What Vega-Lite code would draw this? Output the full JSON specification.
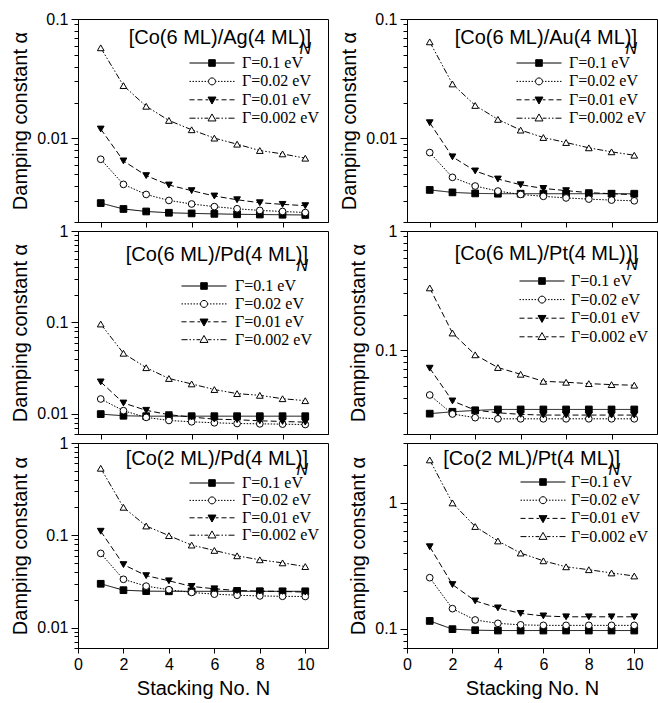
{
  "$schema": "https://vega.github.io/schema/vega-lite/v6.json",
  "padding": {"left": 10, "top": 10, "right": 0, "bottom": 5},
  "datasets": {
    "d": [
      {"p":"Ag","s":"0.1","N":1,"a":0.00288},{"p":"Ag","s":"0.1","N":2,"a":0.00257},{"p":"Ag","s":"0.1","N":3,"a":0.00245},{"p":"Ag","s":"0.1","N":4,"a":0.00239},{"p":"Ag","s":"0.1","N":5,"a":0.00236},{"p":"Ag","s":"0.1","N":6,"a":0.00234},{"p":"Ag","s":"0.1","N":7,"a":0.00232},{"p":"Ag","s":"0.1","N":8,"a":0.00231},{"p":"Ag","s":"0.1","N":9,"a":0.0023},{"p":"Ag","s":"0.1","N":10,"a":0.00229},
      {"p":"Ag","s":"0.02","N":1,"a":0.0067},{"p":"Ag","s":"0.02","N":2,"a":0.00413},{"p":"Ag","s":"0.02","N":3,"a":0.0034},{"p":"Ag","s":"0.02","N":4,"a":0.00303},{"p":"Ag","s":"0.02","N":5,"a":0.00283},{"p":"Ag","s":"0.02","N":6,"a":0.00269},{"p":"Ag","s":"0.02","N":7,"a":0.00258},{"p":"Ag","s":"0.02","N":8,"a":0.0025},{"p":"Ag","s":"0.02","N":9,"a":0.00245},{"p":"Ag","s":"0.02","N":10,"a":0.0024},
      {"p":"Ag","s":"0.01","N":1,"a":0.012},{"p":"Ag","s":"0.01","N":2,"a":0.00649},{"p":"Ag","s":"0.01","N":3,"a":0.00489},{"p":"Ag","s":"0.01","N":4,"a":0.00408},{"p":"Ag","s":"0.01","N":5,"a":0.00366},{"p":"Ag","s":"0.01","N":6,"a":0.0033},{"p":"Ag","s":"0.01","N":7,"a":0.00307},{"p":"Ag","s":"0.01","N":8,"a":0.0029},{"p":"Ag","s":"0.01","N":9,"a":0.00281},{"p":"Ag","s":"0.01","N":10,"a":0.00274},
      {"p":"Ag","s":"0.002","N":1,"a":0.0574},{"p":"Ag","s":"0.002","N":2,"a":0.0277},{"p":"Ag","s":"0.002","N":3,"a":0.0186},{"p":"Ag","s":"0.002","N":4,"a":0.01416},{"p":"Ag","s":"0.002","N":5,"a":0.01183},{"p":"Ag","s":"0.002","N":6,"a":0.01007},{"p":"Ag","s":"0.002","N":7,"a":0.00896},{"p":"Ag","s":"0.002","N":8,"a":0.00793},{"p":"Ag","s":"0.002","N":9,"a":0.00743},{"p":"Ag","s":"0.002","N":10,"a":0.00684},

      {"p":"Au","s":"0.1","N":1,"a":0.00371},{"p":"Au","s":"0.1","N":2,"a":0.00354},{"p":"Au","s":"0.1","N":3,"a":0.00347},{"p":"Au","s":"0.1","N":4,"a":0.00345},{"p":"Au","s":"0.1","N":5,"a":0.00345},{"p":"Au","s":"0.1","N":6,"a":0.00345},{"p":"Au","s":"0.1","N":7,"a":0.00345},{"p":"Au","s":"0.1","N":8,"a":0.00345},{"p":"Au","s":"0.1","N":9,"a":0.00345},{"p":"Au","s":"0.1","N":10,"a":0.00345},
      {"p":"Au","s":"0.02","N":1,"a":0.00762},{"p":"Au","s":"0.02","N":2,"a":0.00473},{"p":"Au","s":"0.02","N":3,"a":0.004},{"p":"Au","s":"0.02","N":4,"a":0.00363},{"p":"Au","s":"0.02","N":5,"a":0.0034},{"p":"Au","s":"0.02","N":6,"a":0.00328},{"p":"Au","s":"0.02","N":7,"a":0.00318},{"p":"Au","s":"0.02","N":8,"a":0.00311},{"p":"Au","s":"0.02","N":9,"a":0.00305},{"p":"Au","s":"0.02","N":10,"a":0.00301},
      {"p":"Au","s":"0.01","N":1,"a":0.01355},{"p":"Au","s":"0.01","N":2,"a":0.00702},{"p":"Au","s":"0.01","N":3,"a":0.00535},{"p":"Au","s":"0.01","N":4,"a":0.00458},{"p":"Au","s":"0.01","N":5,"a":0.0041},{"p":"Au","s":"0.01","N":6,"a":0.00382},{"p":"Au","s":"0.01","N":7,"a":0.00366},{"p":"Au","s":"0.01","N":8,"a":0.00352},{"p":"Au","s":"0.01","N":9,"a":0.00345},{"p":"Au","s":"0.01","N":10,"a":0.00338},
      {"p":"Au","s":"0.002","N":1,"a":0.0644},{"p":"Au","s":"0.002","N":2,"a":0.0286},{"p":"Au","s":"0.002","N":3,"a":0.0189},{"p":"Au","s":"0.002","N":4,"a":0.01445},{"p":"Au","s":"0.002","N":5,"a":0.01175},{"p":"Au","s":"0.002","N":6,"a":0.01019},{"p":"Au","s":"0.002","N":7,"a":0.00925},{"p":"Au","s":"0.002","N":8,"a":0.00835},{"p":"Au","s":"0.002","N":9,"a":0.00773},{"p":"Au","s":"0.002","N":10,"a":0.00724},

      {"p":"Pd6","s":"0.1","N":1,"a":0.00991},{"p":"Pd6","s":"0.1","N":2,"a":0.0095},{"p":"Pd6","s":"0.1","N":3,"a":0.0094},{"p":"Pd6","s":"0.1","N":4,"a":0.0094},{"p":"Pd6","s":"0.1","N":5,"a":0.0094},{"p":"Pd6","s":"0.1","N":6,"a":0.0094},{"p":"Pd6","s":"0.1","N":7,"a":0.0094},{"p":"Pd6","s":"0.1","N":8,"a":0.0094},{"p":"Pd6","s":"0.1","N":9,"a":0.0094},{"p":"Pd6","s":"0.1","N":10,"a":0.0094},
      {"p":"Pd6","s":"0.02","N":1,"a":0.0145},{"p":"Pd6","s":"0.02","N":2,"a":0.0108},{"p":"Pd6","s":"0.02","N":3,"a":0.00912},{"p":"Pd6","s":"0.02","N":4,"a":0.00844},{"p":"Pd6","s":"0.02","N":5,"a":0.00816},{"p":"Pd6","s":"0.02","N":6,"a":0.00796},{"p":"Pd6","s":"0.02","N":7,"a":0.00782},{"p":"Pd6","s":"0.02","N":8,"a":0.00775},{"p":"Pd6","s":"0.02","N":9,"a":0.00769},{"p":"Pd6","s":"0.02","N":10,"a":0.00762},
      {"p":"Pd6","s":"0.01","N":1,"a":0.0223},{"p":"Pd6","s":"0.01","N":2,"a":0.0131},{"p":"Pd6","s":"0.01","N":3,"a":0.0109},{"p":"Pd6","s":"0.01","N":4,"a":0.00976},{"p":"Pd6","s":"0.01","N":5,"a":0.00919},{"p":"Pd6","s":"0.01","N":6,"a":0.00873},{"p":"Pd6","s":"0.01","N":7,"a":0.00859},{"p":"Pd6","s":"0.01","N":8,"a":0.00837},{"p":"Pd6","s":"0.01","N":9,"a":0.00823},{"p":"Pd6","s":"0.01","N":10,"a":0.00809},
      {"p":"Pd6","s":"0.002","N":1,"a":0.0959},{"p":"Pd6","s":"0.002","N":2,"a":0.0459},{"p":"Pd6","s":"0.002","N":3,"a":0.0319},{"p":"Pd6","s":"0.002","N":4,"a":0.0243},{"p":"Pd6","s":"0.002","N":5,"a":0.0212},{"p":"Pd6","s":"0.002","N":6,"a":0.0184},{"p":"Pd6","s":"0.002","N":7,"a":0.0166},{"p":"Pd6","s":"0.002","N":8,"a":0.0159},{"p":"Pd6","s":"0.002","N":9,"a":0.0146},{"p":"Pd6","s":"0.002","N":10,"a":0.0139},

      {"p":"Pt6","s":"0.1","N":1,"a":0.0296},{"p":"Pt6","s":"0.1","N":2,"a":0.0307},{"p":"Pt6","s":"0.1","N":3,"a":0.0315},{"p":"Pt6","s":"0.1","N":4,"a":0.0321},{"p":"Pt6","s":"0.1","N":5,"a":0.0321},{"p":"Pt6","s":"0.1","N":6,"a":0.0321},{"p":"Pt6","s":"0.1","N":7,"a":0.0321},{"p":"Pt6","s":"0.1","N":8,"a":0.0321},{"p":"Pt6","s":"0.1","N":9,"a":0.0321},{"p":"Pt6","s":"0.1","N":10,"a":0.0321},
      {"p":"Pt6","s":"0.02","N":1,"a":0.0424},{"p":"Pt6","s":"0.02","N":2,"a":0.0294},{"p":"Pt6","s":"0.02","N":3,"a":0.0274},{"p":"Pt6","s":"0.02","N":4,"a":0.0268},{"p":"Pt6","s":"0.02","N":5,"a":0.0268},{"p":"Pt6","s":"0.02","N":6,"a":0.0268},{"p":"Pt6","s":"0.02","N":7,"a":0.0268},{"p":"Pt6","s":"0.02","N":8,"a":0.0268},{"p":"Pt6","s":"0.02","N":9,"a":0.0268},{"p":"Pt6","s":"0.02","N":10,"a":0.0268},
      {"p":"Pt6","s":"0.01","N":1,"a":0.0711},{"p":"Pt6","s":"0.01","N":2,"a":0.0378},{"p":"Pt6","s":"0.01","N":3,"a":0.0317},{"p":"Pt6","s":"0.01","N":4,"a":0.0301},{"p":"Pt6","s":"0.01","N":5,"a":0.0292},{"p":"Pt6","s":"0.01","N":6,"a":0.0288},{"p":"Pt6","s":"0.01","N":7,"a":0.0288},{"p":"Pt6","s":"0.01","N":8,"a":0.0288},{"p":"Pt6","s":"0.01","N":9,"a":0.0288},{"p":"Pt6","s":"0.01","N":10,"a":0.0288},
      {"p":"Pt6","s":"0.002","N":1,"a":0.334},{"p":"Pt6","s":"0.002","N":2,"a":0.14},{"p":"Pt6","s":"0.002","N":3,"a":0.092},{"p":"Pt6","s":"0.002","N":4,"a":0.072},{"p":"Pt6","s":"0.002","N":5,"a":0.0632},{"p":"Pt6","s":"0.002","N":6,"a":0.0552},{"p":"Pt6","s":"0.002","N":7,"a":0.0542},{"p":"Pt6","s":"0.002","N":8,"a":0.0528},{"p":"Pt6","s":"0.002","N":9,"a":0.0518},{"p":"Pt6","s":"0.002","N":10,"a":0.0512},

      {"p":"Pd2","s":"0.1","N":1,"a":0.0298},{"p":"Pd2","s":"0.1","N":2,"a":0.0254},{"p":"Pd2","s":"0.1","N":3,"a":0.0248},{"p":"Pd2","s":"0.1","N":4,"a":0.0247},{"p":"Pd2","s":"0.1","N":5,"a":0.0247},{"p":"Pd2","s":"0.1","N":6,"a":0.0247},{"p":"Pd2","s":"0.1","N":7,"a":0.0247},{"p":"Pd2","s":"0.1","N":8,"a":0.0247},{"p":"Pd2","s":"0.1","N":9,"a":0.0247},{"p":"Pd2","s":"0.1","N":10,"a":0.0247},
      {"p":"Pd2","s":"0.02","N":1,"a":0.0636},{"p":"Pd2","s":"0.02","N":2,"a":0.0333},{"p":"Pd2","s":"0.02","N":3,"a":0.0281},{"p":"Pd2","s":"0.02","N":4,"a":0.0257},{"p":"Pd2","s":"0.02","N":5,"a":0.024},{"p":"Pd2","s":"0.02","N":6,"a":0.023},{"p":"Pd2","s":"0.02","N":7,"a":0.0224},{"p":"Pd2","s":"0.02","N":8,"a":0.022},{"p":"Pd2","s":"0.02","N":9,"a":0.0218},{"p":"Pd2","s":"0.02","N":10,"a":0.0217},
      {"p":"Pd2","s":"0.01","N":1,"a":0.1106},{"p":"Pd2","s":"0.01","N":2,"a":0.0481},{"p":"Pd2","s":"0.01","N":3,"a":0.0365},{"p":"Pd2","s":"0.01","N":4,"a":0.0321},{"p":"Pd2","s":"0.01","N":5,"a":0.0279},{"p":"Pd2","s":"0.01","N":6,"a":0.0263},{"p":"Pd2","s":"0.01","N":7,"a":0.0252},{"p":"Pd2","s":"0.01","N":8,"a":0.0248},{"p":"Pd2","s":"0.01","N":9,"a":0.0246},{"p":"Pd2","s":"0.01","N":10,"a":0.0242},
      {"p":"Pd2","s":"0.002","N":1,"a":0.532},{"p":"Pd2","s":"0.002","N":2,"a":0.201},{"p":"Pd2","s":"0.002","N":3,"a":0.126},{"p":"Pd2","s":"0.002","N":4,"a":0.0991},{"p":"Pd2","s":"0.002","N":5,"a":0.0783},{"p":"Pd2","s":"0.002","N":6,"a":0.0685},{"p":"Pd2","s":"0.002","N":7,"a":0.0599},{"p":"Pd2","s":"0.002","N":8,"a":0.0542},{"p":"Pd2","s":"0.002","N":9,"a":0.0502},{"p":"Pd2","s":"0.002","N":10,"a":0.0458},

      {"p":"Pt2","s":"0.1","N":1,"a":0.115},{"p":"Pt2","s":"0.1","N":2,"a":0.0989},{"p":"Pt2","s":"0.1","N":3,"a":0.097},{"p":"Pt2","s":"0.1","N":4,"a":0.0964},{"p":"Pt2","s":"0.1","N":5,"a":0.0964},{"p":"Pt2","s":"0.1","N":6,"a":0.0964},{"p":"Pt2","s":"0.1","N":7,"a":0.0964},{"p":"Pt2","s":"0.1","N":8,"a":0.0964},{"p":"Pt2","s":"0.1","N":9,"a":0.0964},{"p":"Pt2","s":"0.1","N":10,"a":0.0964},
      {"p":"Pt2","s":"0.02","N":1,"a":0.254},{"p":"Pt2","s":"0.02","N":2,"a":0.144},{"p":"Pt2","s":"0.02","N":3,"a":0.117},{"p":"Pt2","s":"0.02","N":4,"a":0.11},{"p":"Pt2","s":"0.02","N":5,"a":0.107},{"p":"Pt2","s":"0.02","N":6,"a":0.106},{"p":"Pt2","s":"0.02","N":7,"a":0.106},{"p":"Pt2","s":"0.02","N":8,"a":0.106},{"p":"Pt2","s":"0.02","N":9,"a":0.106},{"p":"Pt2","s":"0.02","N":10,"a":0.106},
      {"p":"Pt2","s":"0.01","N":1,"a":0.448},{"p":"Pt2","s":"0.01","N":2,"a":0.224},{"p":"Pt2","s":"0.01","N":3,"a":0.166},{"p":"Pt2","s":"0.01","N":4,"a":0.146},{"p":"Pt2","s":"0.01","N":5,"a":0.132},{"p":"Pt2","s":"0.01","N":6,"a":0.126},{"p":"Pt2","s":"0.01","N":7,"a":0.124},{"p":"Pt2","s":"0.01","N":8,"a":0.124},{"p":"Pt2","s":"0.01","N":9,"a":0.124},{"p":"Pt2","s":"0.01","N":10,"a":0.124},
      {"p":"Pt2","s":"0.002","N":1,"a":2.2},{"p":"Pt2","s":"0.002","N":2,"a":1.0},{"p":"Pt2","s":"0.002","N":3,"a":0.649},{"p":"Pt2","s":"0.002","N":4,"a":0.498},{"p":"Pt2","s":"0.002","N":5,"a":0.399},{"p":"Pt2","s":"0.002","N":6,"a":0.346},{"p":"Pt2","s":"0.002","N":7,"a":0.31},{"p":"Pt2","s":"0.002","N":8,"a":0.294},{"p":"Pt2","s":"0.002","N":9,"a":0.277},{"p":"Pt2","s":"0.002","N":10,"a":0.262}
    ]
  },
  "data": {"name": "d"},
  "columns": 2,
  "spacing": {"row": 9, "column": 79},
  "bounds": "flush",
  "resolve": {
    "scale": {"strokeDash": "independent", "fill": "independent", "shape": "independent", "strokeWidth": "independent", "color": "independent", "stroke": "independent"},
    "legend": {"strokeDash": "independent", "fill": "independent", "shape": "independent", "strokeWidth": "independent", "color": "independent", "stroke": "independent"}
  },
  "concat": [
    {
      "width": 250, "height": 203,
      "title": {"text": "[Co(6 ML)/Ag(4 ML)]\u00a0\u00a0\u2009", "subtitle": "N", "offset": -46, "dx": -17},
      "transform": [{"filter": "datum.p == 'Ag'"}],
      "resolve": {"scale": {"shape": "independent", "fill": "independent", "stroke": "independent"}, "legend": {"shape": "independent", "fill": "independent", "stroke": "independent"}},
      "layer": [
        {"mark": {"type": "line", "color": "black", "strokeWidth": 1},
         "encoding": {
           "x": {"field": "N", "type": "quantitative", "scale": {"domain": [0, 11], "nice": false},
                 "axis": {"values": [1,2,3,4,5,6,7,8,9,10], "labels": false, "title": null, "tickSize": 5}},
           "y": {"field": "a", "type": "quantitative", "scale": {"type": "log", "domain": [0.002, 0.1], "nice": false},
                 "axis": {"title": "Damping constant \u03b1", "values": [0.002,0.003,0.004,0.005,0.006,0.007,0.008,0.009,0.01,0.02,0.03,0.04,0.05,0.06,0.07,0.08,0.09,0.1],
                          "labelExpr": "datum.value == 1 ? '1' : datum.value == 0.1 ? '0.1' : datum.value == 0.01 ? '0.01' : ''",
                          "tickSize": {"condition": {"test": "datum.value == 1 || datum.value == 0.1 || datum.value == 0.01", "value": 7}, "value": 4}}},
           "strokeDash": {"field": "s", "type": "nominal", "scale": {"range": [[6,2,1.5,2,1.5,2],[6,3],[1.5,1.5],[1,0]]}, "legend": null}
         }},
        {"mark": {"type": "point", "filled": true, "stroke": "black", "strokeWidth": 1, "size": 45, "opacity": 1},
         "encoding": {
           "x": {"field": "N", "type": "quantitative"},
           "y": {"field": "a", "type": "quantitative"},
           "shape": {"field": "s", "type": "nominal", "scale": {"range": ["triangle-up","triangle-down","circle","square"]}, "legend": null},
           "color": {"field": "s", "type": "nominal", "scale": {"range": ["white","black","white","black"]}, "legend": null}
         }},
        {"mark": {"type": "point", "filled": true, "strokeWidth": 1, "opacity": 0},
         "encoding": {
           "x": {"field": "N", "type": "quantitative"},
           "y": {"field": "a", "type": "quantitative"},
           "fill": {"field": "s", "type": "nominal", "scale": {"domain": ["0.1","0.02","0.01","0.002"], "range": ["black","white","black","white"]},
                    "legend": {"orient": "none", "legendX": 126, "legendY": 36, "title": null, "padding": 0, "symbolSize": 100, "labelOffset": 22, "rowPadding": 2.4, "labelExpr": "'\u0393=' + datum.label + ' eV'"}},
           "stroke": {"field": "s", "type": "nominal", "scale": {"domain": ["0.1","0.02","0.01","0.002"], "range": ["black","black","black","black"]},
                    "legend": {"orient": "none", "legendX": 126, "legendY": 36, "title": null, "padding": 0, "symbolSize": 100, "labelOffset": 22, "rowPadding": 2.4, "labelExpr": "'\u0393=' + datum.label + ' eV'"}},
           "shape": {"field": "s", "type": "nominal", "scale": {"domain": ["0.1","0.02","0.01","0.002"],
                      "range": ["M-4.5,0H-0.75M0.75,0H4.5M-0.66,-0.66H0.66V0.66H-0.66Z",
                                "M-4.5,0H-4.2M-3.9,0H-3.6M-3.3,0H-3M-2.7,0H-2.4M-2.1,0H-1.8M-1.5,0H-1.2M-0.9,0H-0.75M0.75,0H0.9M1.2,0H1.5M1.8,0H2.1M2.4,0H2.7M3,0H3.3M3.6,0H3.9M4.2,0H4.5M-0.7,0A0.7,0.7,0,1,0,0.7,0A0.7,0.7,0,1,0,-0.7,0Z",
                                "M-4.5,0H-3.5M-2.9,0H-1.9M-1.3,0H-0.75M0.75,0H1.3M1.9,0H2.9M3.5,0H4.5M-0.8,-0.55H0.8L0,0.85Z",
                                "M-4.5,0H-3.3M-2.9,0H-2.6M-2.2,0H-1.9M-1.5,0H-0.75M0.75,0H1.5M1.9,0H2.2M2.6,0H2.9M3.3,0H4.5M-0.8,0.55H0.8L0,-0.85Z"]},
                    "legend": {"orient": "none", "legendX": 126, "legendY": 36, "title": null, "padding": 0, "symbolSize": 100, "labelOffset": 22, "rowPadding": 2.4, "labelExpr": "'\u0393=' + datum.label + ' eV'"}}
         }}
      ]
    },
    {
      "width": 250, "height": 203,
      "title": {"text": "[Co(6 ML)/Au(4 ML)]\u00a0\u00a0\u2009", "subtitle": "N", "offset": -46, "dx": -20},
      "transform": [{"filter": "datum.p == 'Au'"}],
      "resolve": {"scale": {"shape": "independent", "fill": "independent", "stroke": "independent"}, "legend": {"shape": "independent", "fill": "independent", "stroke": "independent"}},
      "layer": [
        {"mark": {"type": "line", "color": "black", "strokeWidth": 1},
         "encoding": {
           "x": {"field": "N", "type": "quantitative", "scale": {"domain": [0, 11], "nice": false},
                 "axis": {"values": [1,2,3,4,5,6,7,8,9,10], "labels": false, "title": null, "tickSize": 5}},
           "y": {"field": "a", "type": "quantitative", "scale": {"type": "log", "domain": [0.002, 0.1], "nice": false},
                 "axis": {"title": "Damping constant \u03b1", "values": [0.002,0.003,0.004,0.005,0.006,0.007,0.008,0.009,0.01,0.02,0.03,0.04,0.05,0.06,0.07,0.08,0.09,0.1],
                          "labelExpr": "datum.value == 1 ? '1' : datum.value == 0.1 ? '0.1' : datum.value == 0.01 ? '0.01' : ''",
                          "tickSize": {"condition": {"test": "datum.value == 1 || datum.value == 0.1 || datum.value == 0.01", "value": 7}, "value": 4}}},
           "strokeDash": {"field": "s", "type": "nominal", "scale": {"range": [[6,2,1.5,2,1.5,2],[6,3],[1.5,1.5],[1,0]]}, "legend": null}
         }},
        {"mark": {"type": "point", "filled": true, "stroke": "black", "strokeWidth": 1, "size": 45, "opacity": 1},
         "encoding": {
           "x": {"field": "N", "type": "quantitative"},
           "y": {"field": "a", "type": "quantitative"},
           "shape": {"field": "s", "type": "nominal", "scale": {"range": ["triangle-up","triangle-down","circle","square"]}, "legend": null},
           "color": {"field": "s", "type": "nominal", "scale": {"range": ["white","black","white","black"]}, "legend": null}
         }},
        {"mark": {"type": "point", "filled": true, "strokeWidth": 1, "opacity": 0},
         "encoding": {
           "x": {"field": "N", "type": "quantitative"},
           "y": {"field": "a", "type": "quantitative"},
           "fill": {"field": "s", "type": "nominal", "scale": {"domain": ["0.1","0.02","0.01","0.002"], "range": ["black","white","black","white"]},
                    "legend": {"orient": "none", "legendX": 124, "legendY": 36, "title": null, "padding": 0, "symbolSize": 100, "labelOffset": 22, "rowPadding": 2.4, "labelExpr": "'\u0393=' + datum.label + ' eV'"}},
           "stroke": {"field": "s", "type": "nominal", "scale": {"domain": ["0.1","0.02","0.01","0.002"], "range": ["black","black","black","black"]},
                    "legend": {"orient": "none", "legendX": 124, "legendY": 36, "title": null, "padding": 0, "symbolSize": 100, "labelOffset": 22, "rowPadding": 2.4, "labelExpr": "'\u0393=' + datum.label + ' eV'"}},
           "shape": {"field": "s", "type": "nominal", "scale": {"domain": ["0.1","0.02","0.01","0.002"],
                      "range": ["M-4.5,0H-0.75M0.75,0H4.5M-0.66,-0.66H0.66V0.66H-0.66Z",
                                "M-4.5,0H-4.2M-3.9,0H-3.6M-3.3,0H-3M-2.7,0H-2.4M-2.1,0H-1.8M-1.5,0H-1.2M-0.9,0H-0.75M0.75,0H0.9M1.2,0H1.5M1.8,0H2.1M2.4,0H2.7M3,0H3.3M3.6,0H3.9M4.2,0H4.5M-0.7,0A0.7,0.7,0,1,0,0.7,0A0.7,0.7,0,1,0,-0.7,0Z",
                                "M-4.5,0H-3.5M-2.9,0H-1.9M-1.3,0H-0.75M0.75,0H1.3M1.9,0H2.9M3.5,0H4.5M-0.8,-0.55H0.8L0,0.85Z",
                                "M-4.5,0H-3.3M-2.9,0H-2.6M-2.2,0H-1.9M-1.5,0H-0.75M0.75,0H1.5M1.9,0H2.2M2.6,0H2.9M3.3,0H4.5M-0.8,0.55H0.8L0,-0.85Z"]},
                    "legend": {"orient": "none", "legendX": 124, "legendY": 36, "title": null, "padding": 0, "symbolSize": 100, "labelOffset": 22, "rowPadding": 2.4, "labelExpr": "'\u0393=' + datum.label + ' eV'"}}
         }}
      ]
    },
    {
      "width": 250, "height": 203,
      "title": {"text": "[Co(6 ML)/Pd(4 ML)]\u00a0\u00a0\u2009", "subtitle": "N", "offset": -51, "dx": -20},
      "transform": [{"filter": "datum.p == 'Pd6'"}],
      "resolve": {"scale": {"shape": "independent", "fill": "independent", "stroke": "independent"}, "legend": {"shape": "independent", "fill": "independent", "stroke": "independent"}},
      "layer": [
        {"mark": {"type": "line", "color": "black", "strokeWidth": 1},
         "encoding": {
           "x": {"field": "N", "type": "quantitative", "scale": {"domain": [0, 11], "nice": false},
                 "axis": {"values": [1,2,3,4,5,6,7,8,9,10], "labels": false, "title": null, "tickSize": 5}},
           "y": {"field": "a", "type": "quantitative", "scale": {"type": "log", "domain": [0.006, 1], "nice": false},
                 "axis": {"title": "Damping constant \u03b1", "values": [0.006,0.007,0.008,0.009,0.01,0.02,0.03,0.04,0.05,0.06,0.07,0.08,0.09,0.1,0.2,0.3,0.4,0.5,0.6,0.7,0.8,0.9,1],
                          "labelExpr": "datum.value == 1 ? '1' : datum.value == 0.1 ? '0.1' : datum.value == 0.01 ? '0.01' : ''",
                          "tickSize": {"condition": {"test": "datum.value == 1 || datum.value == 0.1 || datum.value == 0.01", "value": 7}, "value": 4}}},
           "strokeDash": {"field": "s", "type": "nominal", "scale": {"range": [[6,2,1.5,2,1.5,2],[6,3],[1.5,1.5],[1,0]]}, "legend": null},
           "strokeWidth": {"field": "s", "type": "nominal", "scale": {"range": [1,1,2,1]}, "legend": null}
         }},
        {"mark": {"type": "point", "filled": true, "stroke": "black", "strokeWidth": 1, "size": 45, "opacity": 1},
         "encoding": {
           "x": {"field": "N", "type": "quantitative"},
           "y": {"field": "a", "type": "quantitative"},
           "shape": {"field": "s", "type": "nominal", "scale": {"range": ["triangle-up","triangle-down","circle","square"]}, "legend": null},
           "color": {"field": "s", "type": "nominal", "scale": {"range": ["white","black","white","black"]}, "legend": null}
         }},
        {"mark": {"type": "point", "filled": true, "strokeWidth": 1, "opacity": 0},
         "encoding": {
           "x": {"field": "N", "type": "quantitative"},
           "y": {"field": "a", "type": "quantitative"},
           "fill": {"field": "s", "type": "nominal", "scale": {"domain": ["0.1","0.02","0.01","0.002"], "range": ["black","white","black","white"]},
                    "legend": {"orient": "none", "legendX": 118, "legendY": 47, "title": null, "padding": 0, "symbolSize": 100, "labelOffset": 23, "rowPadding": 1.9, "labelExpr": "'\u0393=' + datum.label + ' eV'"}},
           "stroke": {"field": "s", "type": "nominal", "scale": {"domain": ["0.1","0.02","0.01","0.002"], "range": ["black","black","black","black"]},
                    "legend": {"orient": "none", "legendX": 118, "legendY": 47, "title": null, "padding": 0, "symbolSize": 100, "labelOffset": 23, "rowPadding": 1.9, "labelExpr": "'\u0393=' + datum.label + ' eV'"}},
           "shape": {"field": "s", "type": "nominal", "scale": {"domain": ["0.1","0.02","0.01","0.002"],
                      "range": ["M-4.5,0H-0.75M0.75,0H4.5M-0.66,-0.66H0.66V0.66H-0.66Z",
                                "M-4.5,0H-4.2M-3.9,0H-3.6M-3.3,0H-3M-2.7,0H-2.4M-2.1,0H-1.8M-1.5,0H-1.2M-0.9,0H-0.75M0.75,0H0.9M1.2,0H1.5M1.8,0H2.1M2.4,0H2.7M3,0H3.3M3.6,0H3.9M4.2,0H4.5M-0.7,0A0.7,0.7,0,1,0,0.7,0A0.7,0.7,0,1,0,-0.7,0Z",
                                "M-4.5,0H-3.5M-2.9,0H-1.9M-1.3,0H-0.75M0.75,0H1.3M1.9,0H2.9M3.5,0H4.5M-0.8,-0.55H0.8L0,0.85Z",
                                "M-4.5,0H-3.3M-2.9,0H-2.6M-2.2,0H-1.9M-1.5,0H-0.75M0.75,0H1.5M1.9,0H2.2M2.6,0H2.9M3.3,0H4.5M-0.8,0.55H0.8L0,-0.85Z"]},
                    "legend": {"orient": "none", "legendX": 118, "legendY": 47, "title": null, "padding": 0, "symbolSize": 100, "labelOffset": 23, "rowPadding": 1.9, "labelExpr": "'\u0393=' + datum.label + ' eV'"}}
         }}
      ]
    },
    {
      "width": 250, "height": 203,
      "title": {"text": "[Co(6 ML)/Pt(4 ML))]\u00a0\u00a0\u2009", "subtitle": "N", "offset": -50, "dx": -19},
      "transform": [{"filter": "datum.p == 'Pt6'"}],
      "resolve": {"scale": {"shape": "independent", "fill": "independent", "stroke": "independent"}, "legend": {"shape": "independent", "fill": "independent", "stroke": "independent"}},
      "layer": [
        {"mark": {"type": "line", "color": "black", "strokeWidth": 1},
         "encoding": {
           "x": {"field": "N", "type": "quantitative", "scale": {"domain": [0, 11], "nice": false},
                 "axis": {"values": [1,2,3,4,5,6,7,8,9,10], "labels": false, "title": null, "tickSize": 5}},
           "y": {"field": "a", "type": "quantitative", "scale": {"type": "log", "domain": [0.02, 1], "nice": false},
                 "axis": {"title": "Damping constant \u03b1", "values": [0.02,0.03,0.04,0.05,0.06,0.07,0.08,0.09,0.1,0.2,0.3,0.4,0.5,0.6,0.7,0.8,0.9,1],
                          "labelExpr": "datum.value == 1 ? '1' : datum.value == 0.1 ? '0.1' : datum.value == 0.01 ? '0.01' : ''",
                          "tickSize": {"condition": {"test": "datum.value == 1 || datum.value == 0.1 || datum.value == 0.01", "value": 7}, "value": 4}}},
           "strokeDash": {"field": "s", "type": "nominal", "scale": {"range": [[6,3],[6,3],[1.5,1.5],[1,0]]}, "legend": null}
         }},
        {"mark": {"type": "point", "filled": true, "stroke": "black", "strokeWidth": 1, "size": 45, "opacity": 1},
         "encoding": {
           "x": {"field": "N", "type": "quantitative"},
           "y": {"field": "a", "type": "quantitative"},
           "shape": {"field": "s", "type": "nominal", "scale": {"range": ["triangle-up","triangle-down","circle","square"]}, "legend": null},
           "color": {"field": "s", "type": "nominal", "scale": {"range": ["white","black","white","black"]}, "legend": null}
         }},
        {"mark": {"type": "point", "filled": true, "strokeWidth": 1, "opacity": 0},
         "encoding": {
           "x": {"field": "N", "type": "quantitative"},
           "y": {"field": "a", "type": "quantitative"},
           "fill": {"field": "s", "type": "nominal", "scale": {"domain": ["0.1","0.02","0.01","0.002"], "range": ["black","white","black","white"]},
                    "legend": {"orient": "none", "legendX": 127, "legendY": 42, "title": null, "padding": 0, "symbolSize": 100, "labelOffset": 21, "rowPadding": 2.6, "labelExpr": "'\u0393=' + datum.label + ' eV'"}},
           "stroke": {"field": "s", "type": "nominal", "scale": {"domain": ["0.1","0.02","0.01","0.002"], "range": ["black","black","black","black"]},
                    "legend": {"orient": "none", "legendX": 127, "legendY": 42, "title": null, "padding": 0, "symbolSize": 100, "labelOffset": 21, "rowPadding": 2.6, "labelExpr": "'\u0393=' + datum.label + ' eV'"}},
           "shape": {"field": "s", "type": "nominal", "scale": {"domain": ["0.1","0.02","0.01","0.002"],
                      "range": ["M-4.5,0H-0.75M0.75,0H4.5M-0.66,-0.66H0.66V0.66H-0.66Z",
                                "M-4.5,0H-4.2M-3.9,0H-3.6M-3.3,0H-3M-2.7,0H-2.4M-2.1,0H-1.8M-1.5,0H-1.2M-0.9,0H-0.75M0.75,0H0.9M1.2,0H1.5M1.8,0H2.1M2.4,0H2.7M3,0H3.3M3.6,0H3.9M4.2,0H4.5M-0.7,0A0.7,0.7,0,1,0,0.7,0A0.7,0.7,0,1,0,-0.7,0Z",
                                "M-4.5,0H-3.5M-2.9,0H-1.9M-1.3,0H-0.75M0.75,0H1.3M1.9,0H2.9M3.5,0H4.5M-0.8,-0.55H0.8L0,0.85Z",
                                "M-4.5,0H-3.5M-2.9,0H-1.9M-1.3,0H-0.75M0.75,0H1.3M1.9,0H2.9M3.5,0H4.5M-0.8,0.55H0.8L0,-0.85Z"]},
                    "legend": {"orient": "none", "legendX": 127, "legendY": 42, "title": null, "padding": 0, "symbolSize": 100, "labelOffset": 21, "rowPadding": 2.6, "labelExpr": "'\u0393=' + datum.label + ' eV'"}}
         }}
      ]
    },
    {
      "width": 250, "height": 205,
      "title": {"text": "[Co(2 ML)/Pd(4 ML)]\u00a0\u00a0\u2009", "subtitle": "N", "offset": -43, "dx": -20},
      "transform": [{"filter": "datum.p == 'Pd2'"}],
      "resolve": {"scale": {"shape": "independent", "fill": "independent", "stroke": "independent"}, "legend": {"shape": "independent", "fill": "independent", "stroke": "independent"}},
      "layer": [
        {"mark": {"type": "line", "color": "black", "strokeWidth": 1},
         "encoding": {
           "x": {"field": "N", "type": "quantitative", "scale": {"domain": [0, 11], "nice": false},
                 "axis": {"values": [0,1,2,3,4,5,6,7,8,9,10], "labelExpr": "datum.value % 2 == 0 ? datum.label : ''", "title": "Stacking No. N", "tickSize": 5}},
           "y": {"field": "a", "type": "quantitative", "scale": {"type": "log", "domain": [0.006, 1], "nice": false},
                 "axis": {"title": "Damping constant \u03b1", "values": [0.006,0.007,0.008,0.009,0.01,0.02,0.03,0.04,0.05,0.06,0.07,0.08,0.09,0.1,0.2,0.3,0.4,0.5,0.6,0.7,0.8,0.9,1],
                          "labelExpr": "datum.value == 1 ? '1' : datum.value == 0.1 ? '0.1' : datum.value == 0.01 ? '0.01' : ''",
                          "tickSize": {"condition": {"test": "datum.value == 1 || datum.value == 0.1 || datum.value == 0.01", "value": 7}, "value": 4}}},
           "strokeDash": {"field": "s", "type": "nominal", "scale": {"range": [[6,2,1.5,2,1.5,2],[6,3],[1.5,1.5],[1,0]]}, "legend": null},
           "strokeWidth": {"field": "s", "type": "nominal", "scale": {"range": [1,1,2,1]}, "legend": null}
         }},
        {"mark": {"type": "point", "filled": true, "stroke": "black", "strokeWidth": 1, "size": 45, "opacity": 1},
         "encoding": {
           "x": {"field": "N", "type": "quantitative"},
           "y": {"field": "a", "type": "quantitative"},
           "shape": {"field": "s", "type": "nominal", "scale": {"range": ["triangle-up","triangle-down","circle","square"]}, "legend": null},
           "color": {"field": "s", "type": "nominal", "scale": {"range": ["white","black","white","black"]}, "legend": null}
         }},
        {"mark": {"type": "point", "filled": true, "strokeWidth": 1, "opacity": 0},
         "encoding": {
           "x": {"field": "N", "type": "quantitative"},
           "y": {"field": "a", "type": "quantitative"},
           "fill": {"field": "s", "type": "nominal", "scale": {"domain": ["0.1","0.02","0.01","0.002"], "range": ["black","white","black","white"]},
                    "legend": {"orient": "none", "legendX": 126, "legendY": 32, "title": null, "padding": 0, "symbolSize": 100, "labelOffset": 22, "rowPadding": 1.4, "labelExpr": "'\u0393=' + datum.label + ' eV'"}},
           "stroke": {"field": "s", "type": "nominal", "scale": {"domain": ["0.1","0.02","0.01","0.002"], "range": ["black","black","black","black"]},
                    "legend": {"orient": "none", "legendX": 126, "legendY": 32, "title": null, "padding": 0, "symbolSize": 100, "labelOffset": 22, "rowPadding": 1.4, "labelExpr": "'\u0393=' + datum.label + ' eV'"}},
           "shape": {"field": "s", "type": "nominal", "scale": {"domain": ["0.1","0.02","0.01","0.002"],
                      "range": ["M-4.5,0H-0.75M0.75,0H4.5M-0.66,-0.66H0.66V0.66H-0.66Z",
                                "M-4.5,0H-4.2M-3.9,0H-3.6M-3.3,0H-3M-2.7,0H-2.4M-2.1,0H-1.8M-1.5,0H-1.2M-0.9,0H-0.75M0.75,0H0.9M1.2,0H1.5M1.8,0H2.1M2.4,0H2.7M3,0H3.3M3.6,0H3.9M4.2,0H4.5M-0.7,0A0.7,0.7,0,1,0,0.7,0A0.7,0.7,0,1,0,-0.7,0Z",
                                "M-4.5,0H-3.5M-2.9,0H-1.9M-1.3,0H-0.75M0.75,0H1.3M1.9,0H2.9M3.5,0H4.5M-0.8,-0.55H0.8L0,0.85Z",
                                "M-4.5,0H-3.3M-2.9,0H-2.6M-2.2,0H-1.9M-1.5,0H-0.75M0.75,0H1.5M1.9,0H2.2M2.6,0H2.9M3.3,0H4.5M-0.8,0.55H0.8L0,-0.85Z"]},
                    "legend": {"orient": "none", "legendX": 126, "legendY": 32, "title": null, "padding": 0, "symbolSize": 100, "labelOffset": 22, "rowPadding": 1.4, "labelExpr": "'\u0393=' + datum.label + ' eV'"}}
         }}
      ]
    },
    {
      "width": 250, "height": 205,
      "title": {"text": "[Co(2 ML)/Pt(4 ML)]\u00a0\u00a0\u2009", "subtitle": "N", "offset": -43, "dx": -37},
      "transform": [{"filter": "datum.p == 'Pt2'"}],
      "resolve": {"scale": {"shape": "independent", "fill": "independent", "stroke": "independent"}, "legend": {"shape": "independent", "fill": "independent", "stroke": "independent"}},
      "layer": [
        {"mark": {"type": "line", "color": "black", "strokeWidth": 1},
         "encoding": {
           "x": {"field": "N", "type": "quantitative", "scale": {"domain": [0, 11], "nice": false},
                 "axis": {"values": [0,1,2,3,4,5,6,7,8,9,10], "labelExpr": "datum.value % 2 == 0 ? datum.label : ''", "title": "Stacking No. N", "tickSize": 5}},
           "y": {"field": "a", "type": "quantitative", "scale": {"type": "log", "domain": [0.07, 3], "nice": false},
                 "axis": {"title": "Damping constant \u03b1", "values": [0.07,0.08,0.09,0.1,0.2,0.3,0.4,0.5,0.6,0.7,0.8,0.9,1,2,3],
                          "labelExpr": "datum.value == 1 ? '1' : datum.value == 0.1 ? '0.1' : datum.value == 0.01 ? '0.01' : ''",
                          "tickSize": {"condition": {"test": "datum.value == 1 || datum.value == 0.1 || datum.value == 0.01", "value": 7}, "value": 4}}},
           "strokeDash": {"field": "s", "type": "nominal", "scale": {"range": [[6,2,1.5,2,1.5,2],[6,3],[1.5,1.5],[1,0]]}, "legend": null}
         }},
        {"mark": {"type": "point", "filled": true, "stroke": "black", "strokeWidth": 1, "size": 45, "opacity": 1},
         "encoding": {
           "x": {"field": "N", "type": "quantitative"},
           "y": {"field": "a", "type": "quantitative"},
           "shape": {"field": "s", "type": "nominal", "scale": {"range": ["triangle-up","triangle-down","circle","square"]}, "legend": null},
           "color": {"field": "s", "type": "nominal", "scale": {"range": ["white","black","white","black"]}, "legend": null}
         }},
        {"mark": {"type": "point", "filled": true, "strokeWidth": 1, "opacity": 0},
         "encoding": {
           "x": {"field": "N", "type": "quantitative"},
           "y": {"field": "a", "type": "quantitative"},
           "fill": {"field": "s", "type": "nominal", "scale": {"domain": ["0.1","0.02","0.01","0.002"], "range": ["black","white","black","white"]},
                    "legend": {"orient": "none", "legendX": 128, "legendY": 31, "title": null, "padding": 0, "symbolSize": 100, "labelOffset": 20, "rowPadding": 2.2, "labelExpr": "'\u0393=' + datum.label + ' eV'"}},
           "stroke": {"field": "s", "type": "nominal", "scale": {"domain": ["0.1","0.02","0.01","0.002"], "range": ["black","black","black","black"]},
                    "legend": {"orient": "none", "legendX": 128, "legendY": 31, "title": null, "padding": 0, "symbolSize": 100, "labelOffset": 20, "rowPadding": 2.2, "labelExpr": "'\u0393=' + datum.label + ' eV'"}},
           "shape": {"field": "s", "type": "nominal", "scale": {"domain": ["0.1","0.02","0.01","0.002"],
                      "range": ["M-4.5,0H-0.75M0.75,0H4.5M-0.66,-0.66H0.66V0.66H-0.66Z",
                                "M-4.5,0H-4.2M-3.9,0H-3.6M-3.3,0H-3M-2.7,0H-2.4M-2.1,0H-1.8M-1.5,0H-1.2M-0.9,0H-0.75M0.75,0H0.9M1.2,0H1.5M1.8,0H2.1M2.4,0H2.7M3,0H3.3M3.6,0H3.9M4.2,0H4.5M-0.7,0A0.7,0.7,0,1,0,0.7,0A0.7,0.7,0,1,0,-0.7,0Z",
                                "M-4.5,0H-3.5M-2.9,0H-1.9M-1.3,0H-0.75M0.75,0H1.3M1.9,0H2.9M3.5,0H4.5M-0.8,-0.55H0.8L0,0.85Z",
                                "M-4.5,0H-3.3M-2.9,0H-2.6M-2.2,0H-1.9M-1.5,0H-0.75M0.75,0H1.5M1.9,0H2.2M2.6,0H2.9M3.3,0H4.5M-0.8,0.55H0.8L0,-0.85Z"]},
                    "legend": {"orient": "none", "legendX": 128, "legendY": 31, "title": null, "padding": 0, "symbolSize": 100, "labelOffset": 20, "rowPadding": 2.2, "labelExpr": "'\u0393=' + datum.label + ' eV'"}}
         }}
      ]
    }
  ],
  "config": {
    "background": "white",
    "view": {"stroke": "black", "strokeWidth": 1},
    "axis": {"grid": false, "domainColor": "black", "tickColor": "black", "labelColor": "black", "titleColor": "black",
             "labelFont": "Liberation Sans", "labelFontSize": 16, "titleFont": "Liberation Sans", "titleFontSize": 20, "titleFontWeight": "normal",
             "labelFlush": false, "labelOverlap": false, "labelPadding": 3, "titlePadding": 6},
    "legend": {"labelFont": "Liberation Serif", "labelFontSize": 16, "labelColor": "black", "symbolOpacity": 1, "symbolStrokeWidth": 1},
    "title": {"font": "Liberation Sans", "fontSize": 20, "fontWeight": "normal", "color": "black", "anchor": "end", "frame": "group",
              "subtitleFont": "Liberation Sans", "subtitleFontSize": 16, "subtitleFontStyle": "italic", "subtitleColor": "black", "subtitlePadding": -7}
  }
}
